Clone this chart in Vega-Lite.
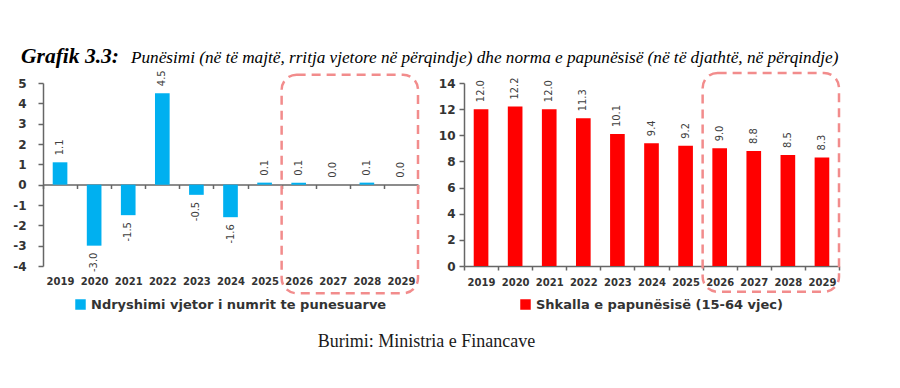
{
  "$schema": "https://vega.github.io/schema/vega-lite/v6.json",
  "background": "white",
  "padding": {"left": 12, "top": 46, "right": 5, "bottom": 5},
  "title": {"text": "Burimi: Ministria e Financave", "orient": "bottom", "anchor": "middle", "font": "Liberation Serif", "fontSize": 18, "fontWeight": "normal", "color": "#1a1a1a", "offset": 21},
  "datasets": {
    "employment": [
      {"year": "2019", "value": 1.1, "series": "Ndryshimi vjetor i numrit te punesuarve"},
      {"year": "2020", "value": -3.0, "series": "Ndryshimi vjetor i numrit te punesuarve"},
      {"year": "2021", "value": -1.5, "series": "Ndryshimi vjetor i numrit te punesuarve"},
      {"year": "2022", "value": 4.5, "series": "Ndryshimi vjetor i numrit te punesuarve"},
      {"year": "2023", "value": -0.5, "series": "Ndryshimi vjetor i numrit te punesuarve"},
      {"year": "2024", "value": -1.6, "series": "Ndryshimi vjetor i numrit te punesuarve"},
      {"year": "2025", "value": 0.1, "series": "Ndryshimi vjetor i numrit te punesuarve"},
      {"year": "2026", "value": 0.1, "series": "Ndryshimi vjetor i numrit te punesuarve"},
      {"year": "2027", "value": 0.0, "series": "Ndryshimi vjetor i numrit te punesuarve"},
      {"year": "2028", "value": 0.1, "series": "Ndryshimi vjetor i numrit te punesuarve"},
      {"year": "2029", "value": 0.0, "series": "Ndryshimi vjetor i numrit te punesuarve"}
    ],
    "unemployment": [
      {"year": "2019", "value": 12.0, "series": "Shkalla e papunësisë (15-64 vjec)"},
      {"year": "2020", "value": 12.2, "series": "Shkalla e papunësisë (15-64 vjec)"},
      {"year": "2021", "value": 12.0, "series": "Shkalla e papunësisë (15-64 vjec)"},
      {"year": "2022", "value": 11.3, "series": "Shkalla e papunësisë (15-64 vjec)"},
      {"year": "2023", "value": 10.1, "series": "Shkalla e papunësisë (15-64 vjec)"},
      {"year": "2024", "value": 9.4, "series": "Shkalla e papunësisë (15-64 vjec)"},
      {"year": "2025", "value": 9.2, "series": "Shkalla e papunësisë (15-64 vjec)"},
      {"year": "2026", "value": 9.0, "series": "Shkalla e papunësisë (15-64 vjec)"},
      {"year": "2027", "value": 8.8, "series": "Shkalla e papunësisë (15-64 vjec)"},
      {"year": "2028", "value": 8.5, "series": "Shkalla e papunësisë (15-64 vjec)"},
      {"year": "2029", "value": 8.3, "series": "Shkalla e papunësisë (15-64 vjec)"}
    ],
    "boxLeft": [{"start": "2026", "end": "2029", "top": 5.41, "bottom": -5.34}],
    "boxRight": [{"start": "2026", "end": "2029", "top": 14.77, "bottom": -1.97}]
  },
  "bounds": "flush",
  "spacing": 46,
  "resolve": {"scale": {"x": "independent", "y": "independent", "color": "independent"}, "legend": {"color": "independent"}},
  "hconcat": [
    {
      "width": 375,
      "height": 183,
      "title": {"text": "Grafik 3.3:", "anchor": "start", "frame": "group", "dx": -22, "baseline": "alphabetic", "offset": -14.5, "font": "Liberation Serif", "fontStyle": "italic", "fontWeight": "bold", "fontSize": 21.5, "color": "#000000"},
      "layer": [
        {
          "data": {"name": "employment"},
          "mark": {"type": "bar", "width": {"band": 0.43}},
          "encoding": {
            "x": {"field": "year", "type": "ordinal", "title": null, "scale": {"paddingInner": 0, "paddingOuter": 0},
              "axis": {"offset": -81.5, "labelPadding": 88, "tickBand": "extent", "tickSize": 4, "labelAngle": 0, "labelOverlap": false}},
            "y": {"field": "value", "type": "quantitative", "title": null, "scale": {"domain": [-4, 5], "nice": false, "zero": false},
              "axis": {"values": [-4, -3, -2, -1, 0, 1, 2, 3, 4, 5], "tickCount": 20, "format": "d", "labelPadding": 12, "tickSize": 5, "labelOverlap": false, "labelBound": false}},
            "color": {"field": "series", "type": "nominal", "scale": {"range": ["#00B0F0"]}, "legend": {"title": null}}
          }
        },
        {
          "data": {"name": "employment"},
          "transform": [{"filter": "datum.value >= 0"}],
          "mark": {"type": "text", "angle": 270, "align": "left", "baseline": "middle", "dx": 7, "font": "Liberation Sans Narrow, DejaVu Sans Condensed, sans-serif", "fontSize": 11, "color": "#404040"},
          "encoding": {
            "x": {"field": "year", "type": "ordinal"},
            "y": {"field": "value", "type": "quantitative"},
            "text": {"field": "value", "type": "quantitative", "format": ".1f"}
          }
        },
        {
          "data": {"name": "employment"},
          "transform": [{"filter": "datum.value < 0"}],
          "mark": {"type": "text", "angle": 270, "align": "right", "baseline": "middle", "dx": -7, "font": "Liberation Sans Narrow, DejaVu Sans Condensed, sans-serif", "fontSize": 11, "color": "#404040"},
          "encoding": {
            "x": {"field": "year", "type": "ordinal"},
            "y": {"field": "value", "type": "quantitative"},
            "text": {"field": "value", "type": "quantitative", "format": ".1f"}
          }
        },
        {
          "data": {"name": "boxLeft"},
          "mark": {"type": "rect", "fill": null, "stroke": "#F28C8C", "strokeWidth": 2.5, "strokeDash": [9, 6], "cornerRadius": 15, "clip": false},
          "encoding": {
            "x": {"field": "start", "type": "ordinal", "bandPosition": 0},
            "x2": {"field": "end", "bandPosition": 1},
            "y": {"field": "top", "type": "quantitative"},
            "y2": {"field": "bottom"}
          }
        }
      ]
    },
    {
      "width": 375,
      "height": 183,
      "title": {"text": "Punësimi (në të majtë, rritja vjetore në përqindje) dhe norma e papunësisë (në të djathtë, në përqindje)", "anchor": "start", "frame": "group", "dx": -333, "dy": -6, "baseline": "alphabetic", "offset": -14.5, "font": "Liberation Serif", "fontStyle": "italic", "fontWeight": "normal", "fontSize": 17.2, "color": "#000000"},
      "layer": [
        {
          "data": {"name": "unemployment"},
          "mark": {"type": "bar", "width": {"band": 0.43}},
          "encoding": {
            "x": {"field": "year", "type": "ordinal", "title": null, "scale": {"paddingInner": 0, "paddingOuter": 0},
              "axis": {"labelPadding": 7, "tickBand": "extent", "tickSize": 4, "labelAngle": 0, "labelOverlap": false}},
            "y": {"field": "value", "type": "quantitative", "title": null, "scale": {"domain": [0, 14], "nice": false},
              "axis": {"values": [0, 2, 4, 6, 8, 10, 12, 14], "tickCount": 20, "format": "d", "labelPadding": 4, "tickSize": 5, "labelOverlap": false, "labelBound": false}},
            "color": {"field": "series", "type": "nominal", "scale": {"range": ["#FF0000"]}, "legend": {"title": null}}
          }
        },
        {
          "data": {"name": "unemployment"},
          "mark": {"type": "text", "angle": 270, "align": "left", "baseline": "middle", "dx": 7, "font": "Liberation Sans Narrow, DejaVu Sans Condensed, sans-serif", "fontSize": 11, "color": "#404040"},
          "encoding": {
            "x": {"field": "year", "type": "ordinal"},
            "y": {"field": "value", "type": "quantitative"},
            "text": {"field": "value", "type": "quantitative", "format": ".1f"}
          }
        },
        {
          "data": {"name": "boxRight"},
          "mark": {"type": "rect", "fill": null, "stroke": "#F28C8C", "strokeWidth": 2.5, "strokeDash": [9, 6], "cornerRadius": 15, "clip": false},
          "encoding": {
            "x": {"field": "start", "type": "ordinal", "bandPosition": 0},
            "x2": {"field": "end", "bandPosition": 1},
            "y": {"field": "top", "type": "quantitative"},
            "y2": {"field": "bottom"}
          }
        }
      ]
    }
  ],
  "config": {
    "locale": {"number": {"decimal": ".", "thousands": ",", "grouping": [3], "currency": ["", ""], "minus": "-"}},
    "view": {"stroke": null},
    "axis": {
      "grid": false,
      "labelOverlap": false,
      "domainColor": "#666666",
      "tickColor": "#666666",
      "domainWidth": 1.5,
      "tickWidth": 1.5,
      "labelFont": "DejaVu Sans",
      "labelFontWeight": "bold",
      "labelColor": "#333333"
    },
    "axisX": {"labelFontSize": 10},
    "axisY": {"labelFontSize": 12},
    "legend": {
      "orient": "bottom",
      "direction": "horizontal",
      "symbolType": "square",
      "symbolSize": 110,
      "symbolStrokeWidth": 0,
      "labelFont": "DejaVu Sans",
      "labelFontSize": 13,
      "labelFontWeight": 600,
      "labelLimit": 0,
      "labelColor": "#333333",
      "offset": 11,
      "layout": {"bottom": {"anchor": "middle"}}
    }
  }
}
